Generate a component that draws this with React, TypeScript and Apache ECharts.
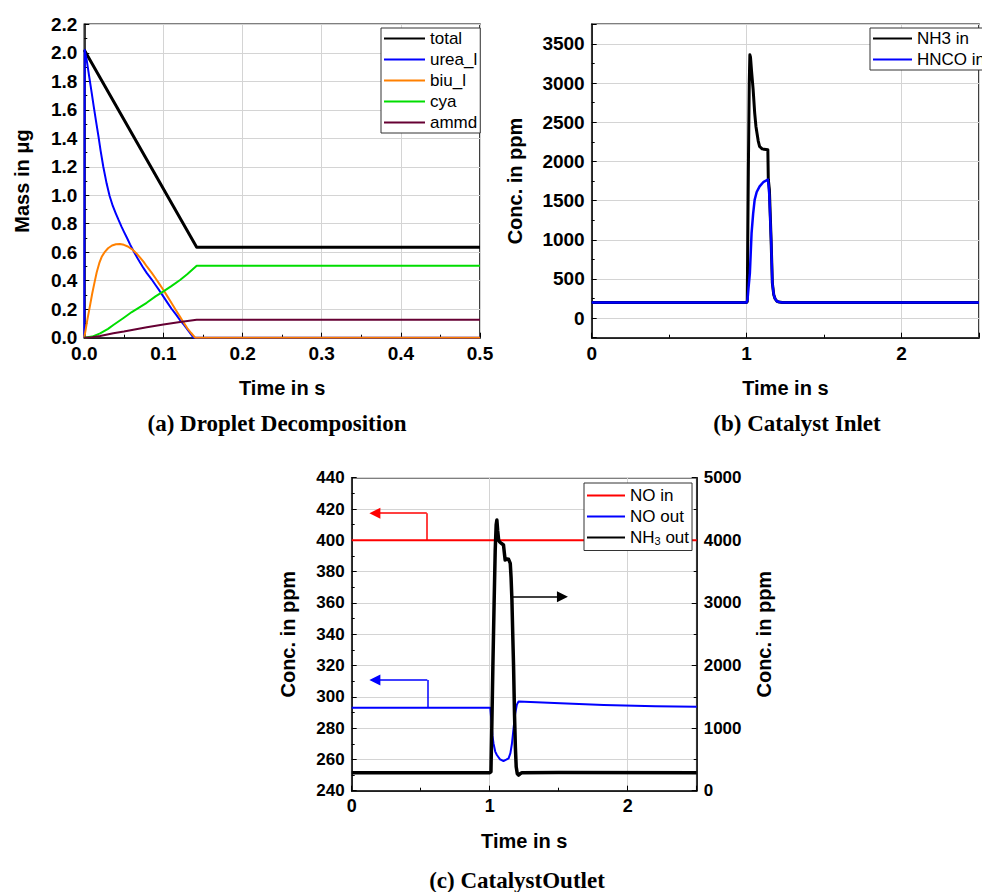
import React, { useEffect, useRef } from 'react';
import * as echarts from 'echarts';

// ---------- (a) Droplet Decomposition : [time s, mass µg] ----------
const massTotal = [[0, 2.02], [0.142, 0.635], [0.5, 0.635]];
const massUrea = [
  [0, 0], [0.0005, 2.02], [0.003, 1.95], [0.006, 1.84], [0.0093, 1.72], [0.012, 1.62],
  [0.0148, 1.52], [0.018, 1.41], [0.0207, 1.31], [0.024, 1.2], [0.0283, 1.08], [0.032, 0.995],
  [0.036, 0.925], [0.04, 0.87], [0.043, 0.83], [0.047, 0.78], [0.05, 0.745], [0.054, 0.7],
  [0.0578, 0.655], [0.063, 0.6], [0.068, 0.55], [0.0735, 0.5], [0.0788, 0.455], [0.085, 0.41],
  [0.09, 0.37], [0.095, 0.33], [0.1, 0.288], [0.105, 0.246], [0.11, 0.205], [0.116, 0.162],
  [0.121, 0.124], [0.126, 0.09], [0.13, 0.06], [0.134, 0.03], [0.138, 0], [0.5, 0],
];
const massBiu = [
  [0, 0], [0.002, 0.065], [0.004, 0.13], [0.0072, 0.225], [0.01, 0.31], [0.013, 0.39],
  [0.0157, 0.46], [0.019, 0.525], [0.022, 0.568], [0.026, 0.603], [0.03, 0.628], [0.035, 0.647],
  [0.04, 0.656], [0.045, 0.658], [0.05, 0.652], [0.055, 0.64], [0.06, 0.622], [0.065, 0.597],
  [0.07, 0.566], [0.075, 0.532], [0.079, 0.5], [0.085, 0.457], [0.09, 0.417], [0.095, 0.376],
  [0.1, 0.335], [0.105, 0.29], [0.11, 0.245], [0.115, 0.2], [0.121, 0.147], [0.126, 0.102],
  [0.13, 0.068], [0.135, 0.033], [0.14, 0], [0.5, 0],
];
const massCya = [
  [0, 0], [0.01, 0.008], [0.02, 0.03], [0.03, 0.062], [0.0367, 0.089], [0.05, 0.14],
  [0.06, 0.18], [0.0788, 0.245], [0.09, 0.29], [0.1, 0.325], [0.11, 0.362], [0.121, 0.405],
  [0.13, 0.445], [0.142, 0.505], [0.5, 0.505],
];
const massAmmd = [
  [0, 0], [0.01, 0.004], [0.02, 0.012], [0.0367, 0.031], [0.05, 0.043], [0.079, 0.073],
  [0.1, 0.092], [0.121, 0.11], [0.142, 0.126], [0.5, 0.126],
];

// ---------- (b) Catalyst Inlet : [time s, ppm] ----------
const nh3In = [
  [0, 200], [1.0, 200], [1.004, 210], [1.011, 1850], [1.017, 3000], [1.021, 3360], [1.025, 3330],
  [1.032, 3150], [1.042, 2920], [1.052, 2620], [1.06, 2450], [1.067, 2360], [1.075, 2260],
  [1.084, 2190], [1.1, 2160], [1.137, 2150], [1.14, 1770], [1.147, 1640], [1.152, 1350],
  [1.158, 1000], [1.166, 450], [1.175, 300], [1.183, 250], [1.195, 215], [1.21, 205],
  [1.23, 200], [2.5, 200],
];
const hncoIn = [
  [0, 200], [1.0, 200], [1.006, 240], [1.012, 380], [1.021, 575], [1.032, 1086], [1.042, 1330],
  [1.052, 1511], [1.065, 1610], [1.084, 1681], [1.11, 1740], [1.137, 1767], [1.142, 1700],
  [1.147, 1550], [1.152, 1300], [1.158, 1000], [1.166, 450], [1.175, 300], [1.183, 250],
  [1.195, 215], [1.21, 205], [1.23, 200], [2.5, 200],
];

// ---------- (c) Catalyst Outlet ----------
const noIn = [[0, 400], [2.5, 400]];
const noOut = [
  [0, 293], [1.004, 293], [1.012, 285], [1.02, 275], [1.028, 270], [1.04, 265], [1.052, 262.8],
  [1.075, 260], [1.1, 259], [1.12, 259.8], [1.137, 260.7], [1.15, 264], [1.161, 270],
  [1.173, 280], [1.185, 289.5], [1.197, 295], [1.209, 297], [1.512, 295.8], [1.826, 294.8],
  [2.2, 294], [2.5, 293.7],
];
const nh3Out = [
  [0, 285], [1.0, 285], [1.009, 304], [1.016, 1100], [1.023, 1981], [1.032, 3000], [1.04, 3845],
  [1.047, 4250], [1.052, 4324], [1.058, 4150], [1.065, 4000], [1.071, 3978], [1.085, 3950],
  [1.1, 3925], [1.106, 3800], [1.112, 3685], [1.125, 3700], [1.137, 3696], [1.149, 3632],
  [1.155, 3400], [1.161, 3046], [1.167, 2500], [1.173, 1981], [1.18, 1200], [1.186, 700],
  [1.192, 383], [1.2, 270], [1.209, 250], [1.22, 270], [1.233, 288], [1.5, 290], [2.5, 285],
];
// annotation arrows (axis units): [stem segment, arrow segment]
const arrowNoIn = [[[0.544, 400], [0.544, 417.3]], [[0.544, 417.3], [0.168, 417.3]]];
const arrowNoOut = [[[0.548, 293], [0.548, 310.7]], [[0.548, 310.7], [0.168, 310.7]]];
const arrowNh3 = [[[1.168, 3099], [1.527, 3099]]];

const legendA = ['total', 'urea_l', 'biu_l', 'cya', 'ammd'];
const legendB = ['NH3 in', 'HNCO in'];
const legendC = ['NO in', 'NO out', 'NH3 out'];

const captions = ['(a) Droplet Decomposition', '(b) Catalyst Inlet', '(c) CatalystOutlet'];

const FONT = 'Liberation Sans';

function axis(o: any) {
  const { axisLabel, ...rest } = o;
  return {
    type: 'value',
    nameLocation: 'middle',
    nameTextStyle: { color: '#000', fontFamily: FONT, fontWeight: 'bold', fontSize: 20 },
    axisLine: { show: true, onZero: false, lineStyle: { color: '#000', width: 1.5 } },
    axisTick: { show: true, inside: true, length: 5, lineStyle: { color: '#000', width: 1 } },
    minorTick: { show: true, splitNumber: 2, length: 3, lineStyle: { color: '#000', width: 1 } },
    splitLine: { show: true, lineStyle: { color: '#d4d4d4', width: 1 } },
    axisLabel: {
      color: '#000', fontFamily: FONT, fontWeight: 'bold', fontSize: 19, margin: 7,
      ...(axisLabel || {}),
    },
    ...rest,
  };
}

function legend(names: string[], left: number, top: number, itemWidth: number, pad: number[]) {
  return {
    data: names,
    orient: 'vertical',
    left,
    top,
    itemWidth,
    itemHeight: 14,
    itemGap: 4,
    padding: pad,
    backgroundColor: '#fff',
    borderColor: '#333',
    borderWidth: 1,
    borderRadius: 0,
    itemStyle: { opacity: 0, borderWidth: 0 },
    formatter: (n: string) => (n === 'NH3 out' ? 'NH{sub|3} out' : n),
    textStyle: {
      fontFamily: FONT, fontSize: 17, color: '#000',
      rich: { sub: { fontFamily: FONT, fontSize: 11, color: '#000', verticalAlign: 'bottom', padding: [7, 0, 0, 0] } },
    },
  };
}

function line(name: string, data: number[][], color: string, width: number, xi: number, yi: number) {
  return {
    type: 'line', name, data, xAxisIndex: xi, yAxisIndex: yi,
    showSymbol: false, symbol: 'none',
    lineStyle: { color, width, join: 'round' }, itemStyle: { color },
  };
}

function arrow(name: string, segs: number[][][], color: string, yi: number) {
  return {
    type: 'lines', name, coordinateSystem: 'cartesian2d', xAxisIndex: 2, yAxisIndex: yi,
    symbolSize: [6, 11],
    lineStyle: { color, width: 1.5, opacity: 1, curveness: 0 },
    data: segs.map((coords, i) => ({
      coords,
      symbol: i === segs.length - 1 ? ['none', 'triangle'] : ['none', 'none'],
    })),
  };
}

const intLabel = (v: number) => (Math.abs(v - Math.round(v)) < 1e-9 ? String(Math.round(v)) : '');

export default function App() {
  const ref = useRef<HTMLDivElement>(null);
  useEffect(() => {
    document.body.style.margin = '0';
    const chart = echarts.init(ref.current!, null, { renderer: 'svg' });
    const captionStyle = (text: string) => ({
      text, fill: '#000', fontFamily: 'Liberation Serif', fontWeight: 'bold', fontSize: 23,
      align: 'center', verticalAlign: 'middle', textAlign: 'center', textVerticalAlign: 'middle',
    });
    chart.setOption({
      animation: false,
      backgroundColor: '#fff',
      grid: [
        { left: 84.3, top: 24.3, width: 395.7, height: 313.4, show: true, borderColor: '#000', borderWidth: 1.5, backgroundColor: 'transparent' },
        { left: 591.7, top: 24.3, width: 395.8, height: 313.4, show: true, borderColor: '#000', borderWidth: 1.5, backgroundColor: 'transparent' },
        { left: 351.7, top: 477.7, width: 345, height: 313, show: true, borderColor: '#000', borderWidth: 1.5, backgroundColor: 'transparent' },
      ],
      xAxis: [
        axis({ gridIndex: 0, min: 0, max: 0.5, interval: 0.1, name: 'Time in s', nameGap: 40,
          axisLabel: { formatter: (v: number) => v.toFixed(1), margin: 6 } }),
        axis({ gridIndex: 1, min: 0, max: 2.5, interval: 1, name: 'Time in s', nameGap: 40,
          axisLabel: { formatter: intLabel, margin: 6 } }),
        axis({ gridIndex: 2, min: 0, max: 2.5, interval: 1, name: 'Time in s', nameGap: 40,
          axisLabel: { formatter: intLabel, margin: 6, fontSize: 18 } }),
      ],
      yAxis: [
        axis({ gridIndex: 0, min: 0, max: 2.2, interval: 0.2, name: 'Mass in \u03bcg', nameGap: 52,
          axisLabel: { formatter: (v: number) => v.toFixed(1) } }),
        axis({ gridIndex: 1, min: -250, max: 3750, splitNumber: 8, name: 'Conc. in ppm', nameGap: 67,
          axisLabel: { formatter: (v: number) => (Math.abs(v % 500) < 1e-9 ? String(Math.abs(v) < 1e-9 ? 0 : v) : '') } }),
        axis({ gridIndex: 2, min: 240, max: 440, interval: 20, name: 'Conc. in ppm', nameGap: 54,
          axisLabel: { fontSize: 17, formatter: (v: number) => String(v) } }),
        axis({ gridIndex: 2, position: 'right', min: 0, max: 5000, interval: 1000, name: 'Conc. in ppm', nameGap: 57,
          splitLine: { show: false }, axisLabel: { fontSize: 17, formatter: (v: number) => String(v) } }),
      ],
      legend: [
        legend(legendA, 381, 28, 41, [2, 3, 2, 2]),
        legend(legendB, 870, 28, 39, [2, 3, 2, 2]),
        legend(legendC, 584, 483, 38, [4, 3, 4, 2]),
      ],
      series: [
        line('total', massTotal, '#000000', 3, 0, 0),
        line('urea_l', massUrea, '#0000ff', 2, 0, 0),
        line('biu_l', massBiu, '#ff8000', 2, 0, 0),
        line('cya', massCya, '#00dd00', 2, 0, 0),
        line('ammd', massAmmd, '#660033', 2, 0, 0),
        line('NH3 in', nh3In, '#000000', 3, 1, 1),
        line('HNCO in', hncoIn, '#0000ff', 2.5, 1, 1),
        line('NO in', noIn, '#ff0000', 2, 2, 2),
        line('NO out', noOut, '#0000ff', 2, 2, 2),
        line('NH3 out', nh3Out, '#000000', 3.5, 2, 3),
        arrow('arrow NO in', arrowNoIn, '#ff0000', 2),
        arrow('arrow NO out', arrowNoOut, '#0000ff', 2),
        arrow('arrow NH3 out', arrowNh3, '#000000', 3),
      ],
      graphic: [
        { type: 'text', x: 277, y: 423, style: captionStyle(captions[0]) },
        { type: 'text', x: 797, y: 423, style: captionStyle(captions[1]) },
        { type: 'text', x: 517, y: 880, style: captionStyle(captions[2]) },
      ],
    });
    return () => chart.dispose();
  }, []);
  return <div ref={ref} style={{ position: 'fixed', left: 0, top: 0, width: 982, height: 892 }} />;
}
